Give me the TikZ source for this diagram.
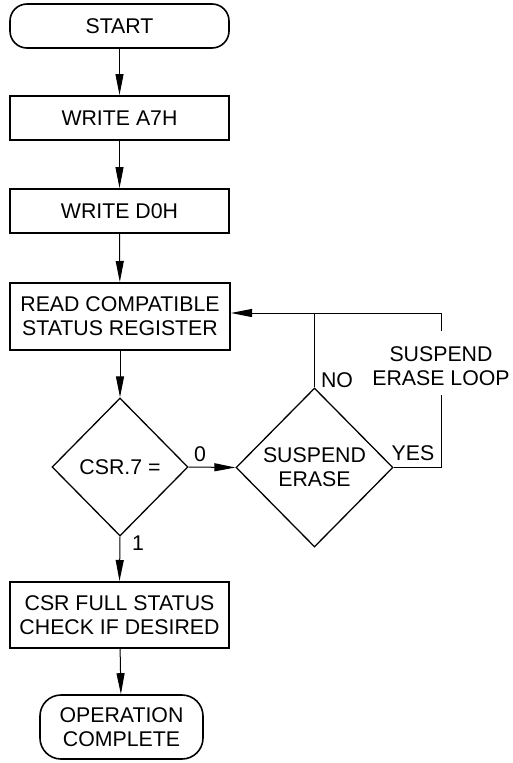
\documentclass[tikz,border=0pt]{standalone}
\usepackage{fontspec}
\setmainfont{Liberation Sans}
\usetikzlibrary{arrows.meta,shapes.geometric}
\begin{document}
\begin{tikzpicture}[x=1pt,y=-1pt,
  every node/.style={font=\fontsize{21.3}{23.8}\selectfont, inner sep=0pt, align=center},
  procbox/.style={draw, line width=2pt, rectangle, minimum width=219pt},
  termbox/.style={draw, line width=1.6pt, rectangle, rounded corners=17pt},
  decbox/.style={draw, line width=1.3pt, diamond},
  arr/.style={line width=1pt, -{Triangle[length=21pt,width=8pt]}},
  conn/.style={line width=1pt},
  lbl/.style={font=\fontsize{21.3}{23.8}\selectfont}
]
\useasboundingbox (0,0) rectangle (512,763);
\node[termbox, minimum width=219pt, minimum height=44pt] (start) at (119.5,26) {START};
\node[procbox, minimum height=44pt] (a7) at (119.5,118) {WRITE A7H};
\node[procbox, minimum height=44pt] (d0) at (119.5,211) {WRITE D0H};
\node[procbox, minimum width=220pt, minimum height=67pt] (read) at (120,316.5) {READ COMPATIBLE\\STATUS REGISTER};
\node[decbox, minimum width=136pt, minimum height=138pt] (csr) at (120,467) {CSR.7 =};
\node[decbox, minimum width=157pt, minimum height=159pt] (susp) at (314.5,467.5) {SUSPEND\\ERASE};
\node[procbox, minimum height=66pt] (full) at (119.5,615) {CSR FULL STATUS\\CHECK IF DESIRED};
\node[termbox, rounded corners=21pt, minimum width=163pt, minimum height=64pt] (done) at (121.5,727) {OPERATION\\COMPLETE};

\draw[arr] (start) -- (a7);
\draw[arr] (a7) -- (d0);
\draw[arr] (d0) -- (read);
\draw[arr] (read) -- (csr);
\draw[arr] (csr.south) -- (full.north);
\draw[arr] (full) -- (done);
\draw[arr] (csr.east) -- (susp.west);

\coordinate (j) at (314.5,313);
\coordinate (lb) at (441,395);
\coordinate (lt) at (441,331);
\draw[conn] (susp.north) -- (j);
\draw[conn] (susp.east) -| (lb);
\draw[arr] (lt) |- (j -| read.east);

\node[lbl] (l0) at (200,454) {0};
\node[lbl] (l1) at (138,543) {1};
\node[lbl] (lno) at (337,380) {NO};
\node[lbl] (lyes) at (413,453) {YES};
\node[lbl] (loop) at (441,366.5) {SUSPEND\\ERASE LOOP};
\end{tikzpicture}
\end{document}
